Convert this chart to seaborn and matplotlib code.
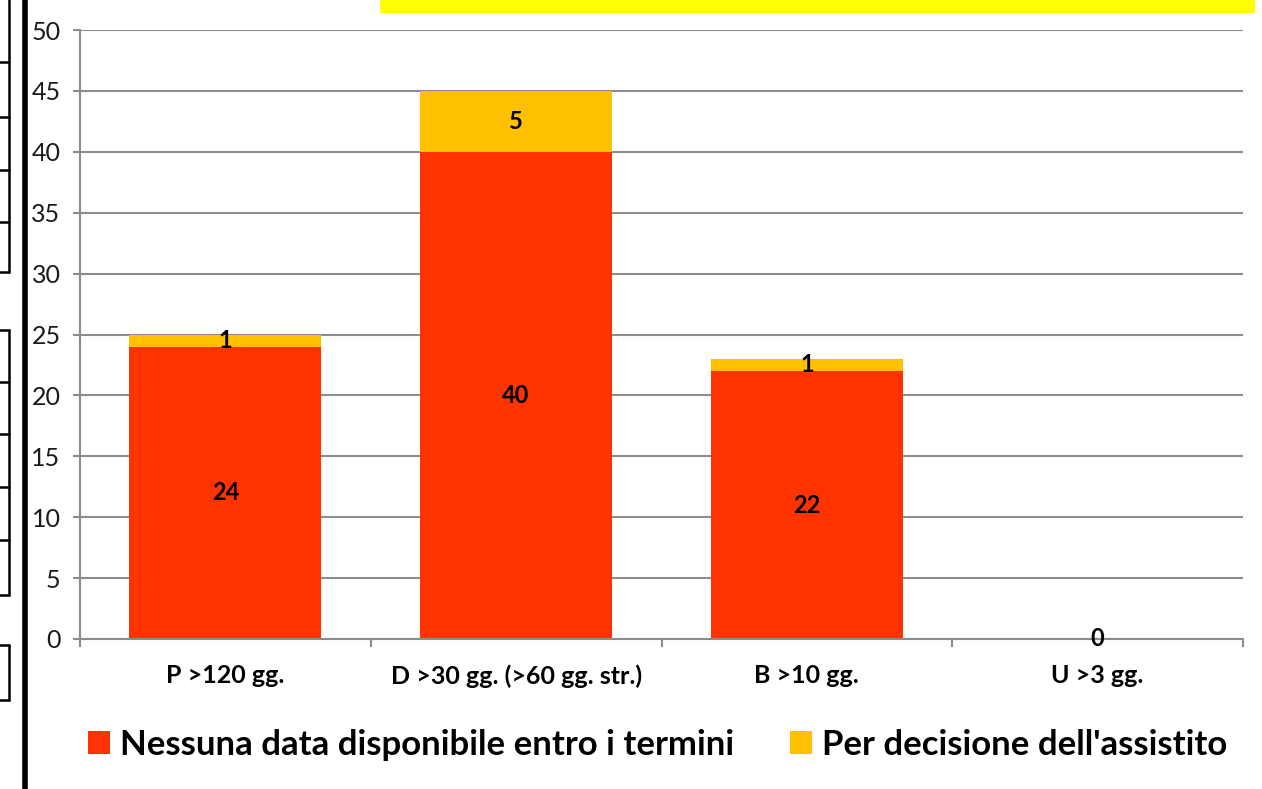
import seaborn as sns
import matplotlib.pyplot as plt
from matplotlib.patches import Patch, Rectangle
from matplotlib.lines import Line2D

# data
categories = ['P >120 gg.', 'D >30 gg. (>60 gg. str.)', 'B >10 gg.', 'U >3 gg.']
nessuna_data = [24, 40, 22, 0]
per_decisione = [1, 5, 1, 0]
series_names = ['Nessuna data disponibile entro i termini', "Per decisione dell'assistito"]
y_ticks = [0, 5, 10, 15, 20, 25, 30, 35, 40, 45, 50]

red = '#FF3300'
orange = '#FFC000'
grid_col = '#8C8C8C'

sns.set_style('white')
plt.rcParams['font.family'] = ['Lato', 'DejaVu Sans']
plt.rcParams['text.color'] = 'black'

fig = plt.figure(figsize=(12.62, 7.89), dpi=100)
ax = fig.add_axes([80 / 1262, 1 - 639 / 789, (1243 - 80) / 1262, (639 - 30) / 789])

totals = [a + b for a, b in zip(nessuna_data, per_decisione)]
sns.barplot(x=categories, y=totals, color=orange, width=0.66, ax=ax, saturation=1, linewidth=0)
sns.barplot(x=categories, y=nessuna_data, color=red, width=0.66, ax=ax, saturation=1, linewidth=0)

ax.set_xlim(-0.5, 3.5)
ax.set_ylim(0, 50)
ax.set_yticks(y_ticks)
ax.set_yticklabels([str(t) for t in y_ticks], fontsize=18, color='#1A1A1A')
ax.yaxis.grid(True, color=grid_col, linewidth=1.5)
ax.set_axisbelow(True)
ax.tick_params(axis='y', length=5, width=1.5, color=grid_col, pad=9, left=True)

# category boundary ticks on x axis
ax.set_xticks([i - 0.5 for i in range(5)], minor=True)
ax.tick_params(axis='x', which='minor', length=6, width=1.5, color=grid_col, bottom=True)
ax.tick_params(axis='x', which='major', length=0, pad=18)
ax.set_xticklabels(categories, fontsize=18, fontweight='bold', color='black')
ax.set_xlabel('')
ax.set_ylabel('')

for side in ['top', 'right']:
    ax.spines[side].set_visible(False)
for side in ['left', 'bottom']:
    ax.spines[side].set_color(grid_col)
    ax.spines[side].set_linewidth(1.5)

# data labels centred in each segment
for i, (a, b) in enumerate(zip(nessuna_data, per_decisione)):
    ax.text(i, a / 2, str(a), ha='center', va='center', fontsize=17, fontweight='bold', color='black')
    if b > 0:
        ax.text(i, a + b / 2, str(b), ha='center', va='center', fontsize=17, fontweight='bold',
                color='black')

handles = [Patch(facecolor=red, edgecolor='none'), Patch(facecolor=orange, edgecolor='none')]
fig.legend(handles, series_names, loc='center', bbox_to_anchor=(0.521, 1 - 745 / 789),
           ncol=2, frameon=False, prop={'size': 25, 'weight': 'bold'}, labelcolor='black',
           handlelength=0.63, handleheight=0.63, handletextpad=0.3, columnspacing=1.6)

# fragments of the surrounding sheet
fig.add_artist(Rectangle((380 / 1262, 1 - 13 / 789), (1255 - 380) / 1262, 13 / 789,
                         transform=fig.transFigure, facecolor='#FFFF00', edgecolor='none'))
fig.add_artist(Line2D([24.5 / 1262] * 2, [0, 1], transform=fig.transFigure, color='black', linewidth=4))
for y0, y1, rows in [(0, 272, [62, 117, 170, 222, 272]), (330, 595, [330, 382, 434, 487, 540, 595]),
                     (645, 700, [645, 700])]:
    fig.add_artist(Line2D([9 / 1262] * 2, [1 - y0 / 789, 1 - y1 / 789], transform=fig.transFigure,
                          color='black', linewidth=1.8))
    for r in rows:
        fig.add_artist(Line2D([0, 9 / 1262], [1 - r / 789] * 2, transform=fig.transFigure,
                              color='black', linewidth=1.8))

fig.savefig('out.png', dpi=100)
